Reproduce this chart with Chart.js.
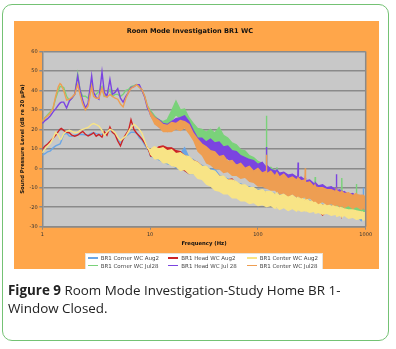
<!DOCTYPE html>
<html>
<head>
<meta charset="utf-8">
<script src="https://cdn.jsdelivr.net/npm/chart.js@4.4.1/dist/chart.umd.min.js"></script>
<style>
  html, body { margin: 0; padding: 0; background: #fff; }
  body { width: 396px; height: 349px; position: relative; overflow: hidden; font-family: "DejaVu Sans", sans-serif; }
  #card { position: absolute; left: 2px; top: 4px; width: 385px; height: 335px; border: 1.4px solid #74c274; border-radius: 10px; }
  #plotbox { position: absolute; left: 14px; top: 21px; width: 365px; height: 248px; background: #ffa64a; }
  #chart { position: absolute; left: 0; top: 0; }
  #legend { position: absolute; left: 71px; top: 232px; width: 238px; height: 16px; background: #fff; box-sizing: border-box; border: 1px solid #e9e2d8; border-bottom: none; }
  .item { position: absolute; font-size: 5.5px; line-height: 7px; color: #444; white-space: nowrap; }
  .item i { display: inline-block; width: 10px; height: 1.5px; vertical-align: middle; margin-right: 3px; position: relative; top: -0.5px; }
  #caption { position: absolute; left: 8px; top: 282px; font-family: "Open Sans", sans-serif; font-size: 13.4px; line-height: 17.6px; color: #222; }
  #caption b { font-weight: 700; }
</style>
</head>
<body>
<div id="card"></div>
<div id="plotbox">
  <canvas id="chart" width="365" height="248"></canvas>
  <div id="legend"></div>
</div>
<div id="caption"><b>Figure 9</b> Room Mode Investigation-Study Home BR 1-<br>Window Closed.</div>
<script>
// Frequency points (Hz). Below 10 Hz each trace is a single line;
// from 10 Hz up each trace is a scatter band with an upper and a lower edge.
const freqHz = [
  1.00,1.06,1.12,1.19,1.26,1.33,1.41,1.46,1.50,1.58,
  1.68,1.78,1.88,2.00,2.13,2.24,2.37,2.51,2.66,2.87,
  2.99,3.16,3.35,3.58,3.76,3.98,4.24,4.47,4.73,5.01,
  5.31,5.62,5.96,6.31,6.65,7.08,7.50,7.94,8.41,8.91,
  9.44,
  10.0,10.96,12.02,13.18,14.45,15.85,17.38,19.05,20.89,22.91,
  25.12,27.54,30.2,33.11,36.31,39.81,43.65,47.86,52.48,57.54,
  63.1,69.18,75.86,83.18,91.2,100,109.6,119.3,120,120.7,
  131.8,144.5,149,150,151,158.5,173.8,190.5,208.9,229.1,
  234.6,236,237.4,251.2,273.4,275,276.6,302,331.1,338,
  340,342,363.1,398.1,436.5,478.6,524.8,531.8,535,538.2,
  575.4,596.4,600,603.6,631,691.8,758.6,815,820,825,
  912,944.3,950,955.7,1000
];

// Sound pressure level, dB re 20 µPa (single trace, then band top from 10 Hz)
const cornerAug2 = [
  6.7,7.5,8.5,9,10.5,11.5,12.2,12.5,14,17.5,
  18,16.6,16.5,17,17.4,17.5,17.4,17.2,17,18,
  18.3,17.8,17.4,17.5,18,18.5,19.5,18.5,17.5,15,
  13.1,15,16.5,17.5,18.5,18.5,18.3,15.7,14.5,12,
  10,
  8.5,8,9.5,9,9,8.5,8,7.5,10.5,5.5,
  4.5,2.5,1.5,0.5,-0.5,-0.5,-3.5,-4.5,-5.5,-6.5,
  -7.5,-8,-9,-9.5,-10.5,-11,-11.5,-12,-11.5,-12,
  -12.5,-13,-13,-13.5,-13,-13.5,-14,-14,-14.5,-15,
  -15,-15,-15,-15.5,-16,-16,-16,-16.5,-17,-17.5,
  -17.5,-17.5,-18,-18.5,-19,-19,-19.5,-19.5,-19.5,-19.5,
  -20,-20,-20,-20,-20,-20.5,-21,-21,-21,-21,
  -21.5,-21.5,-10,-21.5,-22
];
const headAug2 = [
  9.7,11.5,12.5,14,15.5,17,19,20,20.5,19.5,
  18.5,18.3,17,16.5,17,18,19,17.5,16.6,17.5,
  18.3,16.5,17.4,16,18.8,17,21.2,18.5,17.4,14,
  11.5,15,17.4,19.5,25,20,18,16.6,15,13,
  10.5,
  8,9.5,11,11.5,10.5,10.5,9,8.5,6.5,5.5,
  4,3,1,0,-1,-2.5,-4,-5,-6,-5.5,
  -8,-8.5,-9.5,-10,-11,-11.5,-12,-12.5,-12,-12.5,
  -13,-13.5,-13.5,-14,-13.5,-14,-14.5,-14.5,-15,-15.5,
  -15.5,-15.5,-15.5,-16,-16.5,-16.5,-16.5,-17,-17.5,-18,
  -18,-18,-18.5,-19,-19.5,-19.5,-20,-20,-20,-20,
  -20.5,-20.5,-20.5,-20.5,-20.5,-21,-21.5,-21.5,-21.5,-21.5,
  -22,-22,-22,-22,-22.5
];
const centerAug2 = [
  7.9,10,11.5,13,15.5,18.5,17,15,15,17.8,
  19,19.5,19,18.3,18.5,19.5,20,20.5,21,22.6,
  23,22.5,21.7,19.5,17,18.5,20,19.5,18.3,16,
  14.3,15.5,16.5,19,21,22.6,21.5,20,18,14,
  10.5,
  9.5,11,10,10.5,9,9.5,7.5,8,6.5,6,
  4,3,1,1,-1,-1.5,-4,-4,-6,-6,
  -7,-8.5,-8.5,-10,-10,-11.5,-11,-12.5,-11.5,-12,
  -12,-13.5,-12.5,-13.5,-13,-14,-13.5,-14.5,-14,-15.5,
  -14.5,-15,-15.5,-15,-16.5,-16,-15.5,-17,-16.5,-18,
  -17,-18,-17.5,-19,-18.5,-19.5,-19,-20,-19,-19.5,
  -20.5,-19.5,-20,-20.5,-19.5,-21,-20.5,-21.5,-20.5,-21,
  -22,-21,-21.5,-21.5,-22
];
const cornerJul28 = [
  24.5,26,27.5,29,31,36,40,42,42,41.5,
  37,35,36,38,48.5,40,37,37,36,43,
  38,38,39.5,42,37,38,40.5,37,38,38,
  37,38,40,40.5,42,42.5,43,42,40,37,
  32,
  30,27,25,24,25,29.5,34.5,30,30.5,26,
  23,20.5,20,18.5,20,18,21,17,15.5,13,
  12,9.5,9,6.5,5.5,3.5,2.5,0,27,-0.5,
  0.5,-1.5,-3,0.5,-3,-4,-5,-6,-6.5,-7,
  -7.5,-7.5,-7.5,-8,-8.5,-8.5,-8.5,-9,-10,-10,
  -4.5,-10.5,-11,-11.5,-12,-12.5,-13,-13,-13,-13,
  -13.5,-14,-5,-14,-14,-14.5,-15,-15,-8,-15.5,
  -16,-16,-16,-16.5,-16.5
];
const headJul28 = [
  23,24.5,25.5,27,29,30.5,32.5,33.5,34,34,
  31,34.5,36,38,47.5,40,35,31,33.5,47.5,
  39,36.5,35.5,49.5,39,37,45.7,38,39,41,
  36,34,37,39,41.5,42,43,43,40,36.5,
  31,
  29,26,25,23,22.5,24,25.5,26,27,24,
  19.5,15.5,15.5,13.5,15,13,13.5,11,11.5,9,
  8.5,6.5,5.5,4.5,4,2,3,0.5,11,1.5,
  -0.5,-1.5,-1,-1.5,-1,-2.5,-2,-3.5,-3,-4.5,
  -4,3,-5,-4.5,-6,-5,-6.5,-6,-8,-7.5,
  -8.5,-7.5,-9,-8.5,-10,-9.5,-11,-10.5,-3,-11.5,
  -11,-12.5,-11.5,-12.5,-12,-13.5,-13,-14.5,-13.5,-14.5,
  -14,-15.5,-14.5,-15.5,-15
];
const centerJul28 = [
  24,26,27,28.5,31,37,42,43.5,43,40,
  35,35.5,36.5,38,43,38,33,30,32,42,
  37,36,36,41,37,36.5,38,37,36,35.5,
  33,31.5,36,39,41,42,43,41.5,40.5,37,
  32,
  29,26,24.5,22.5,22,23.5,23,24.5,24,22.5,
  18,15,12.5,11,9,8.5,6,6.5,3.5,4,
  1.5,2.5,0,1,-1.5,0,-2.5,-1.5,7,-3,
  -1.5,-4,-2.5,-3,-2.5,-4.5,-3,-5.5,-4.5,-6,
  -5,-6,-5,-6.5,-6,0,-7.5,-7,-9.5,-8.5,
  -9,-9.5,-10,-10,-11,-11,-12,-11,-12,-11.5,
  -12.5,-12,-13,-12,-13,-12.5,-14,-13,-13.5,-13.5,
  -14,-14,-14.5,-14,-15
];

// Lower edge of each band, from 10 Hz up
const cornerAug2Low = [
  6,5,4,3,2,1.5,0,-1,-1.5,-3,
  -3,-4.5,-5.5,-7,-8.5,-10.5,-11,-12.5,-12.5,-14,
  -14.5,-15.5,-16,-17,-17,-18,-18,-18.5,-18.5,-18.5,
  -18.5,-19.5,-19,-19.5,-19.5,-20,-19.5,-20.5,-20,-21,
  -20.5,-21,-20.5,-21,-21,-21.5,-21,-21.5,-21.5,-22,
  -21.5,-22,-22,-22.5,-22.5,-23,-23,-23.5,-23,-23.5,
  -23.5,-24,-23.5,-24,-23.5,-24.5,-24.5,-25,-24.5,-25,
  -27.5,-25.5,-25,-25.5,-25.5
];
const headAug2Low = [
  6,6,5,4,3,2,0.5,-0.5,-1.5,-3,
  -2.5,-4.5,-5,-7,-8.5,-10,-11,-12,-12.5,-14,
  -14.5,-15.5,-16,-17,-17,-18,-18,-18.5,-18.5,-18.5,
  -18.5,-19.5,-19,-19.5,-19.5,-20,-19.5,-20.5,-20,-21,
  -20.5,-21,-20.5,-21,-21,-21.5,-21,-21.5,-21.5,-22,
  -21.5,-22,-22,-24.5,-22.5,-23,-23,-23.5,-23,-23.5,
  -23.5,-24,-26,-24,-23.5,-24.5,-24.5,-25,-24.5,-25,
  -25,-25.5,-25,-25.5,-25.5
];
const centerAug2Low = [
  7,4.5,4.5,2.5,2.5,1,0.5,-1.5,-1,-3,
  -3,-5.5,-6,-8.5,-9.5,-11.5,-12,-13.5,-13.5,-15.5,
  -15.5,-17,-17,-18.5,-18,-19.5,-19,-20,-19.5,-20,
  -19.5,-21,-20,-21,-20.5,-21.5,-20.5,-22,-21,-22.5,
  -21.5,-22.5,-21.5,-22.5,-22,-23,-22,-23,-22.5,-23.5,
  -22.5,-23.5,-23,-24,-23.5,-24.5,-24,-25,-24,-25,
  -24.5,-25.5,-24.5,-25.5,-24.5,-26,-25.5,-26.5,-25.5,-26.5,
  -26,-27,-26,-27,-26.5
];
const cornerJul28Low = [
  28,24,21.5,20,20,24,27,25.5,25,21.5,
  18,16,14,12.5,11.5,11,11.5,10,8,6.5,
  4.5,3,2,0.5,-0.5,-1.5,-3,-4,-4,-4,
  -4.5,-7,-8,-8,-8,-10,-11,-12,-13,-13.5,
  -14,-14,-14,-14.5,-15,-15,-15,-15.5,-16,-16.5,
  -16.5,-16.5,-17,-17.5,-18,-18.5,-19,-19,-19,-19.5,
  -19.5,-20,-20,-20,-20.5,-21,-21,-21.5,-21.5,-21.5,
  -22,-22,-22,-22.5,-22.5
];
const headJul28Low = [
  27,23.5,21,19.5,18.5,20,21,22,22.5,20,
  15,11,9,8,7.5,7,6,5,4.5,3,
  2,1,-0.5,-1,-2,-3,-4,-4.5,-4,-4.5,
  -5.5,-6.5,-7,-7,-7,-7.5,-8,-8.5,-9,-9.5,
  -10,-10,-10,-10.5,-11,-11,-11,-12,-13,-13,
  -13,-13.5,-14,-14,-15,-15.5,-16,-16,-16,-16.5,
  -17,-17,-17,-17.5,-18,-18,-19,-19,-19.5,-19.5,
  -20,-20.5,-20.5,-21,-21
];
const centerJul28Low = [
  27,22.5,21,18.5,18.5,18.5,20,19,20.5,17.5,
  14,8.5,6.5,2.5,1.5,-0.5,-0.5,-2.5,-2,-4,
  -4,-5.5,-5,-7,-7.5,-9.5,-9.5,-10.5,-10,-10.5,
  -11.5,-11.5,-12.5,-12,-12,-13.5,-13,-14.5,-13.5,-15,
  -14.5,-15,-14.5,-15.5,-15,-15,-16,-15.5,-17.5,-17,
  -17.5,-17,-18.5,-17.5,-19,-18.5,-19.5,-19,-19.5,-19,
  -20,-19.5,-20,-19.5,-20.5,-19.5,-21,-20,-20.5,-20,
  -21.5,-20.5,-21.5,-21,-21.5
];

const seriesNames = [
  'BR1 Corner WC Aug2', 'BR1 Head WC Aug2', 'BR1 Center WC Aug2',
  'BR1 Corner WC Jul28', 'BR1 Head WC Jul 28', 'BR1 Center WC Jul28'
];
const xTicks = [1, 10, 100, 1000];
const yTicks = [-30, -20, -10, 0, 10, 20, 30, 40, 50, 60];

const series = [
  { name: seriesNames[0], top: cornerAug2,  low: cornerAug2Low,  color: '#6aa6e6', layer: 5 },
  { name: seriesNames[1], top: headAug2,    low: headAug2Low,    color: '#cc2326', layer: 4 },
  { name: seriesNames[2], top: centerAug2,  low: centerAug2Low,  color: '#f8e486', layer: 3 },
  { name: seriesNames[3], top: cornerJul28, low: cornerJul28Low, color: '#7ad27a', layer: 2 },
  { name: seriesNames[4], top: headJul28,   low: headJul28Low,   color: '#7b44e0', layer: 1 },
  { name: seriesNames[5], top: centerJul28, low: centerJul28Low, color: '#ee9e52', layer: 0 }
];

const singleLineCount = freqHz.length - cornerAug2Low.length;
const toPoints = vals => freqHz.map((f, i) => ({ x: f, y: vals[i] }));
const lowerEdge = s => s.top.map((v, i) => i < singleLineCount ? v : s.low[i - singleLineCount]);

const datasets = [];
series.forEach(s => {
  datasets.push({
    label: s.name, data: toPoints(s.top), borderColor: s.color, backgroundColor: s.color,
    borderWidth: 1.4, pointRadius: 0, tension: 0, fill: '+1', order: s.layer
  });
  datasets.push({
    label: s.name + ' (low)', data: toPoints(lowerEdge(s)), borderColor: 'rgba(0,0,0,0)',
    borderWidth: 0, pointRadius: 0, tension: 0, fill: false, order: s.layer
  });
});

// grey plot area and right-hand frame line
const plotFrame = {
  id: 'plotFrame',
  beforeDraw(chart) {
    const { ctx, chartArea: a } = chart;
    ctx.save();
    ctx.fillStyle = '#c8c8c8';
    ctx.fillRect(a.left, a.top, a.right - a.left, a.bottom - a.top);
    ctx.restore();
  },
  afterDraw(chart) {
    const { ctx, chartArea: a } = chart;
    ctx.save();
    ctx.strokeStyle = '#8a8a8a';
    ctx.lineWidth = 1.5;
    ctx.beginPath();
    ctx.moveTo(a.right, a.top);
    ctx.lineTo(a.right, a.bottom);
    ctx.stroke();
    ctx.restore();
  }
};

Chart.defaults.font.family = '"DejaVu Sans", sans-serif';

new Chart(document.getElementById('chart'), {
  type: 'line',
  data: { datasets },
  options: {
    responsive: false,
    animation: false,
    devicePixelRatio: 1,
    layout: { padding: { left: 0, right: 13.3, top: 0, bottom: 0 } },
    plugins: {
      legend: { display: false },
      tooltip: { enabled: false },
      title: {
        display: true, text: 'Room Mode Investigation BR1 WC', color: '#111',
        font: { size: 6.6, weight: 'bold', lineHeight: 1.2 },
        padding: { top: 6, bottom: 16.6 }
      }
    },
    scales: {
      x: {
        type: 'logarithmic', min: 1, max: 1000,
        afterBuildTicks: s => { s.ticks = xTicks.map(v => ({ value: v })); },
        afterFit: s => { s.height = 42.3; },
        ticks: { callback: v => String(v), font: { size: 5 }, color: '#333', padding: 2.5, maxRotation: 0, autoSkip: false },
        grid: { drawOnChartArea: false, color: '#8a8a8a', tickLength: 3 },
        border: { color: '#8a8a8a', width: 1.5 },
        title: { display: true, text: 'Frequency (Hz)', color: '#111', font: { size: 5.3, weight: 'bold', lineHeight: 1.2 }, padding: { top: 0, bottom: 21.8 } }
      },
      y: {
        min: -30, max: 60,
        afterBuildTicks: s => { s.ticks = yTicks.map(v => ({ value: v })); },
        afterFit: s => { s.width = 28.3; },
        ticks: { font: { size: 5 }, color: '#333', padding: 1.6 },
        grid: { color: '#8a8a8a', lineWidth: 1.5, tickLength: 3 },
        border: { color: '#8a8a8a', width: 1.5 },
        title: { display: true, text: 'Sound Pressure Level (dB re 20 µPa)', color: '#111', font: { size: 5.3, weight: 'bold', lineHeight: 1.2 }, padding: { top: 5.6, bottom: 0 } }
      }
    }
  },
  plugins: [plotFrame]
});

// legend: two rows of three entries
const legend = document.getElementById('legend');
const colX = [1.7, 82.3, 160.7];
const rowY = [0.8, 8.5];
series.forEach((s, i) => {
  const el = document.createElement('div');
  el.className = 'item';
  el.style.left = colX[i % 3] + 'px';
  el.style.top = rowY[Math.floor(i / 3)] + 'px';
  const sw = document.createElement('i');
  sw.style.background = s.color;
  el.appendChild(sw);
  el.appendChild(document.createTextNode(s.name));
  legend.appendChild(el);
});
</script>
</body>
</html>
